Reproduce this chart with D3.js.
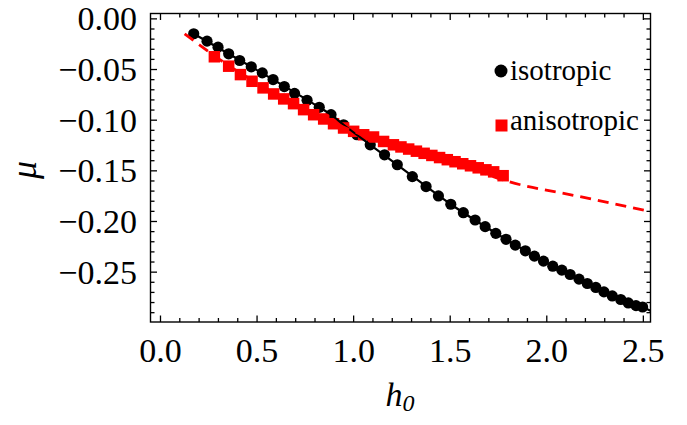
<!DOCTYPE html>
<html><head><meta charset="utf-8">
<script src="https://cdn.jsdelivr.net/npm/d3@7"></script>
<style>
html,body{margin:0;padding:0;background:#fff;}
svg{display:block;font-family:"Liberation Serif","Times New Roman",serif;}
</style></head>
<body><svg id="c" width="687" height="425"></svg>
<script>
// ---- data ----
const isoH = [0.172,0.241,0.298,0.353,0.410,0.470,0.527,0.583,0.641,0.694,0.759,0.822,0.883,0.948,1.017,1.086,1.160,1.226,1.304,1.375,1.439,1.503,1.568,1.629,1.681,1.736,1.789,1.837,1.889,1.936,1.983,2.031,2.078,2.121,2.167,2.210,2.254,2.296,2.339,2.383,2.422,2.462,2.496];
const isoMu = [-0.0147,-0.0220,-0.0279,-0.0345,-0.0411,-0.0473,-0.0533,-0.0599,-0.0668,-0.0735,-0.0804,-0.0873,-0.0946,-0.1045,-0.1144,-0.1243,-0.1342,-0.1440,-0.1557,-0.1655,-0.1748,-0.1830,-0.1913,-0.1985,-0.2051,-0.2117,-0.2176,-0.2233,-0.2289,-0.2342,-0.2391,-0.2441,-0.2480,-0.2523,-0.2569,-0.2612,-0.2651,-0.2695,-0.2735,-0.2770,-0.2804,-0.2830,-0.2844];
const anisoH = [0.279,0.353,0.414,0.474,0.531,0.586,0.638,0.689,0.741,0.793,0.845,0.896,0.948,1.000,1.052,1.103,1.155,1.206,1.245,1.285,1.325,1.365,1.405,1.445,1.485,1.525,1.565,1.605,1.645,1.685,1.725,1.774];
const anisoMu = [-0.0374,-0.0467,-0.0550,-0.0616,-0.0681,-0.0741,-0.0790,-0.0837,-0.0896,-0.0946,-0.0988,-0.1035,-0.1077,-0.1110,-0.1144,-0.1166,-0.1210,-0.1243,-0.1264,-0.1285,-0.1306,-0.1327,-0.1348,-0.1369,-0.1390,-0.1410,-0.1430,-0.1450,-0.1470,-0.1490,-0.1510,-0.1548];
// fitted curves
const isoFitH = [0.172,0.470,0.822,0.883,0.948,1.086,1.226,1.503,1.789,2.031,2.254,2.496,2.537];
const isoFitMu = [-0.0147,-0.0473,-0.0873,-0.0946,-0.1045,-0.1243,-0.1440,-0.1830,-0.2176,-0.2441,-0.2651,-0.2844,-0.2880];
const anisoFitH = [0.125,0.279,0.500,0.750,1.000,1.250,1.500,1.800,2.170,2.537];
const anisoFitMu = [-0.0147,-0.0365,-0.0635,-0.0895,-0.1110,-0.1270,-0.1400,-0.1605,-0.1754,-0.1903];
const xTicks = [0.0,0.5,1.0,1.5,2.0,2.5];
const xTickLabels = ["0.0","0.5","1.0","1.5","2.0","2.5"];
const yTicks = [0.00,-0.05,-0.10,-0.15,-0.20,-0.25];
const yTickLabels = ["0.00","\u22120.05","\u22120.10","\u22120.15","\u22120.20","\u22120.25"];
const legendLabels = ["isotropic","anisotropic"];

// ---- layout ----
const L=150.5, R=650.5, T=13.5, B=322;
const x = d3.scaleLinear().domain([-0.0517,2.537]).range([L,R]);
const y = d3.scaleLinear().domain([-0.2992,0.0053]).range([B,T]);
const svg = d3.select("#c");

svg.append("defs").append("clipPath").attr("id","clip")
  .append("rect").attr("x",L).attr("y",T).attr("width",R-L).attr("height",B-T);
const plot = svg.append("g").attr("clip-path","url(#clip)");

// isotropic points
plot.append("g").selectAll("circle").data(isoH).join("circle")
  .attr("cx",(d)=>x(d)).attr("cy",(d,i)=>y(isoMu[i])).attr("r",5.6).attr("fill","#000");
// anisotropic squares
const s=11.5;
plot.append("g").selectAll("rect").data(anisoH).join("rect")
  .attr("x",(d)=>x(d)-s/2).attr("y",(d,i)=>y(anisoMu[i])-s/2).attr("width",s).attr("height",s).attr("fill","#ff0000");
// fit lines
const line = d3.line().curve(d3.curveMonotoneX);
plot.append("path").attr("d",line(isoFitH.map((h,i)=>[x(h),y(isoFitMu[i])])))
  .attr("fill","none").attr("stroke","#000").attr("stroke-width",2.2);
plot.append("path").attr("d",line(anisoFitH.map((h,i)=>[x(h),y(anisoFitMu[i])])))
  .attr("fill","none").attr("stroke","#ff0000").attr("stroke-width",2.8).attr("stroke-dasharray","11,7");

// axes (frame, ticks inside)
const ax = svg.append("g").attr("stroke","#000").attr("stroke-width",1.3);
const xMinor = d3.range(0,26).map(i=>i/10);
const yMinor = d3.range(0,30).map(i=>-i/100);
function isMajor(v,arr){return arr.some(t=>Math.abs(t-v)<1e-9);}
xMinor.forEach(v=>{
  const len = isMajor(v,xTicks)?6.5:4;
  ax.append("line").attr("x1",x(v)).attr("x2",x(v)).attr("y1",B).attr("y2",B-len);
  ax.append("line").attr("x1",x(v)).attr("x2",x(v)).attr("y1",T).attr("y2",T+len);
});
yMinor.forEach(v=>{
  const len = isMajor(v,yTicks)?6.5:4;
  ax.append("line").attr("y1",y(v)).attr("y2",y(v)).attr("x1",L).attr("x2",L+len);
  ax.append("line").attr("y1",y(v)).attr("y2",y(v)).attr("x1",R).attr("x2",R-len);
});
svg.append("rect").attr("x",L).attr("y",T).attr("width",R-L).attr("height",B-T)
  .attr("fill","none").attr("stroke","#000").attr("stroke-width",1.4);

// tick labels
svg.append("g").selectAll("text").data(xTicks).join("text")
  .attr("x",d=>x(d)).attr("y",362).attr("text-anchor","middle")
  .attr("font-size",34).text((d,i)=>xTickLabels[i]);
svg.append("g").selectAll("text").data(yTicks).join("text")
  .attr("x",137).attr("y",d=>y(d)+11.5).attr("text-anchor","end")
  .attr("font-size",34).text((d,i)=>yTickLabels[i]);

// axis titles
const xt = svg.append("text").attr("x",400).attr("y",406).attr("text-anchor","middle")
  .attr("font-size",34).attr("font-style","italic");
xt.append("tspan").text("h");
xt.append("tspan").attr("font-size",24).attr("dy",5).text("0");
svg.append("text").attr("transform","translate(36,170) rotate(-90)").attr("text-anchor","middle")
  .attr("font-size",36).attr("font-style","italic").text("\u03bc");

// legend
svg.append("circle").attr("cx",501).attr("cy",71).attr("r",6.5).attr("fill","#000");
svg.append("rect").attr("x",495.5).attr("y",119.5).attr("width",12).attr("height",12).attr("fill","#ff0000");
svg.append("text").attr("x",510).attr("y",80).attr("font-size",29).text(legendLabels[0]);
svg.append("text").attr("x",510).attr("y",130).attr("font-size",29).text(legendLabels[1]);
</script></body></html>
